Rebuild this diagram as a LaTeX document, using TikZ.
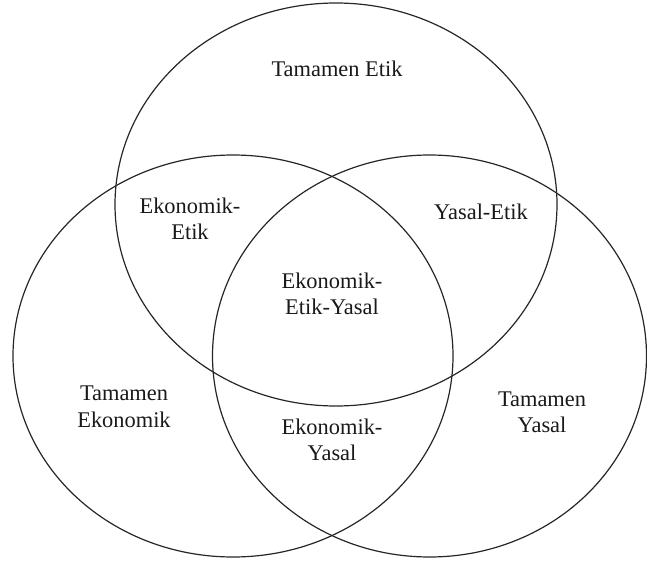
\documentclass[tikz,border=0pt]{standalone}
\usepackage{fontspec}
\setmainfont{Liberation Serif}
\begin{document}
\begin{tikzpicture}[x=1pt,y=-1pt,
  venn/.style={draw=black!85,line width=1.2pt},
  lbl/.style={font=\fontsize{22.4pt}{26.5pt}\selectfont,align=center,inner sep=0pt,text=black!90}]
\useasboundingbox (0,0) rectangle (647,569);
\draw[venn] (336,204.5) ellipse [x radius=221, y radius=201.5];
\draw[venn] (233,356) ellipse [x radius=220, y radius=201];
\draw[venn] (429.5,356) ellipse [x radius=217, y radius=201];
\node[lbl,anchor=base] (etik) at (337,77) {Tamamen Etik};
\node[lbl] (ekoetik) at (190,219) {Ekonomik-\\Etik};
\node[lbl,anchor=base] (yasaletik) at (481,220) {Yasal-Etik};
\node[lbl] (hepsi) at (332,294) {Ekonomik-\\Etik-Yasal};
\node[lbl] (eko) at (124,407) {Tamamen\\Ekonomik};
\node[lbl] (ekoyasal) at (332,440) {Ekonomik-\\Yasal};
\node[lbl] (yasal) at (542,412.5) {Tamamen\\Yasal};
\end{tikzpicture}
\end{document}
